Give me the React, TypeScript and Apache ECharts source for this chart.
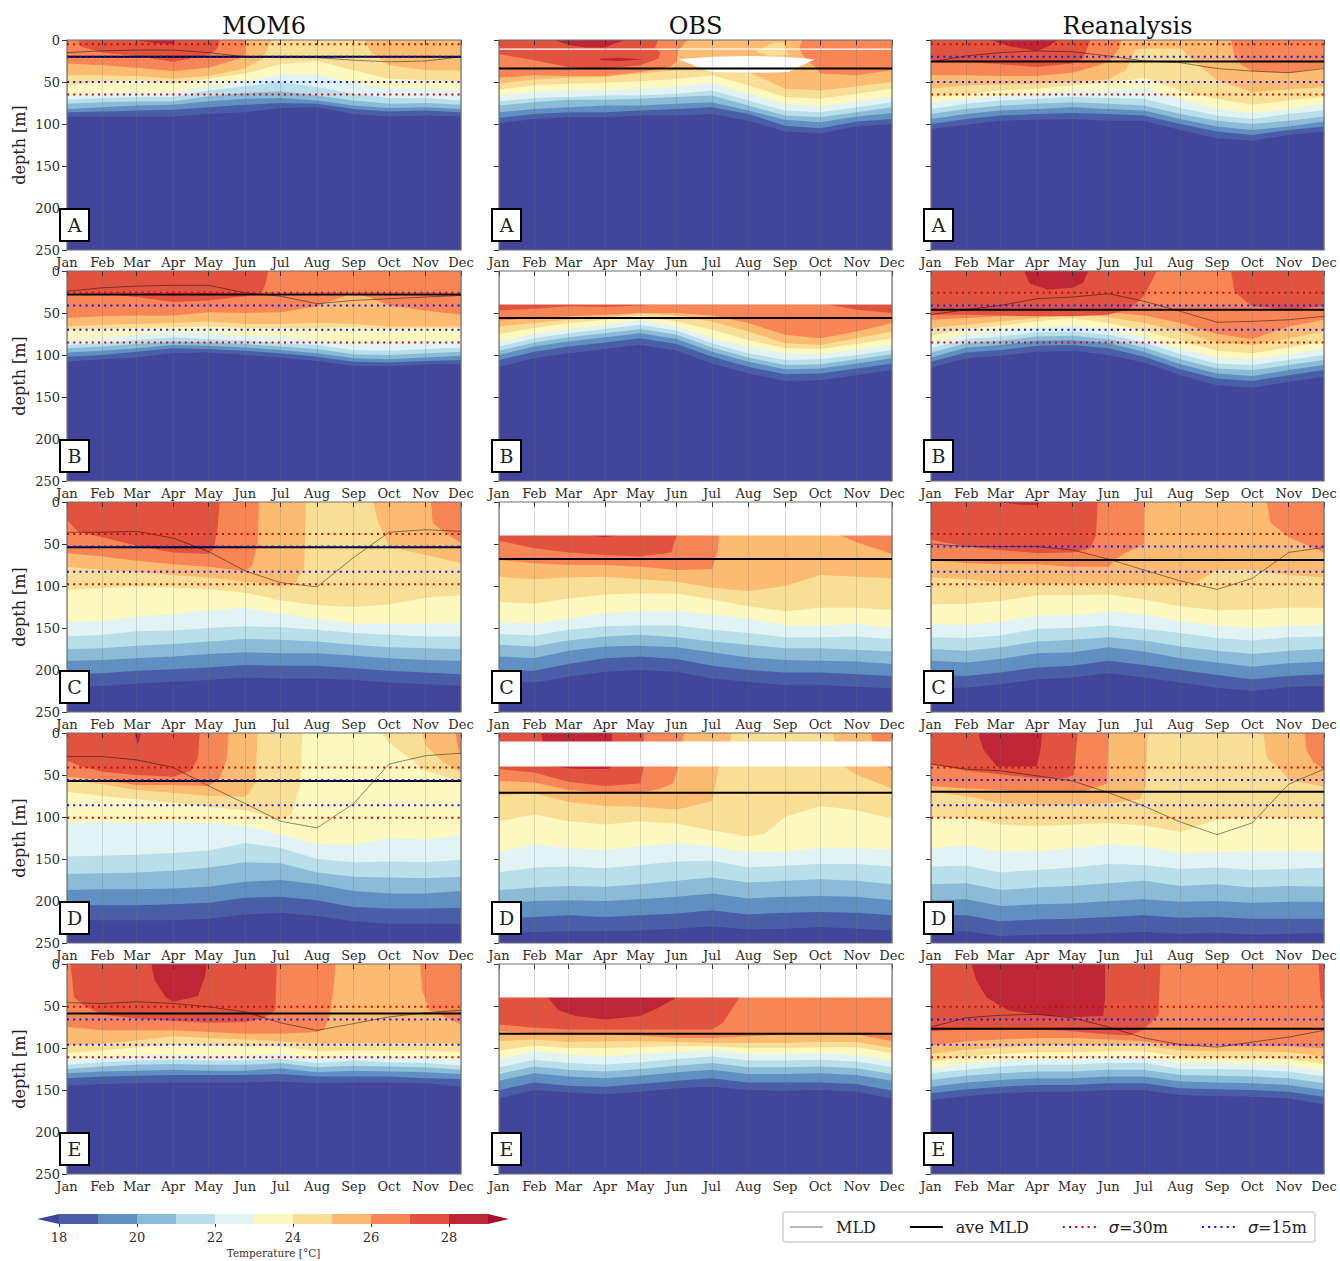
import React, { useEffect, useRef } from "react";
import * as echarts from "echarts";

const MONTHS = ["Jan","Feb","Mar","Apr","May","Jun","Jul","Aug","Sep","Oct","Nov","Dec"];
const MONTH_DAYS = [0,30,59,90,120,151,181,212,243,273,304,334];
const COLUMN_TITLES = ["MOM6","OBS","Reanalysis"];
const ROW_LETTERS = ["A","B","C","D","E"];
const LEVELS = [18,19,20,21,22,23,24,25,26,27,28];
const LEVEL_COLORS = ["#4a5ea8","#6090c2","#8bbbd6","#b8dfea","#e1f3f3","#fdf8bf","#f9df96","#fbbc72","#f78556","#e2533f","#be2635"];
const UNDER_COLOR = "#41469a";
const OVER_COLOR = "#a5102f";

// isotherm depth: twelve monthly values, or [month position, depth] pairs. Order: 18,19,...,28 degC
const M_A: any[] = [
  [91,91,91,91,88,86,81,80,88,91,90,91],
  [86,85,84,83,80,77,75,76,82,85,84,86],
  [82,80,78,77,73,70,69,72,78,81,80,82],
  [76,74,73,73,67,63,61,66,72,76,75,77],
  [71,69,68,68,60,55,50,56,64,69,69,72],
  [66,63,62,62,55,50,41,41,52,57,58,60],
  [54,50,48,52,46,40,29,25,36,46,48,49],
  [[0,42],[1,42],[2,43],[3,46],[4,43],[5,34],[5.5,22],[5.75,0],[8.3,0],[8.5,15],[9,30],[10,36],[11,36]],
  [[0,28],[1,30],[2,33],[3,37],[4,33],[5,20],[5.02,0]],
  [[0.33,0],[0.4,8],[1,15],[2,19],[3,26],[4,18],[4.25,10],[4.3,0]],
  [[2,0],[2.5,4],[3,5],[3.05,0]],
];
const M_B: any[] = [
  [108,105,103,98,97,100,103,107,113,113,111,111],
  [102,100,96,92,93,95,98,102,108,109,107,106],
  [97,95,92,88,89,91,94,98,104,105,103,101],
  [92,90,87,84,85,87,90,93,99,100,98,96],
  [88,86,82,79,81,83,86,88,94,95,93,91],
  [82,80,76,73,74,77,79,82,85,85,84,83],
  [70,69,68,67,66,68,68,68,67,69,68,68],
  [66,64,63,62,60,63,63,62,63,66,66,66],
  [[0,56],[1,54],[2,53],[3,53],[4,49],[5,50],[6,49],[7,42],[7.6,32],[8,26],[8.5,32],[9,41],[10,47],[11,52]],
  [[0,26],[1,27],[2,31],[3,37],[4,35],[5,30],[5.5,24],[5.6,12],[5.65,0]],
  [],
];
const M_C: any[] = [
  [219,219,216,214,212,209,210,210,212,215,217,219],
  [205,204,201,199,197,194,195,195,198,201,203,205],
  [189,188,186,184,181,179,180,180,183,186,188,189],
  [175,174,171,169,166,163,164,166,170,173,174,175],
  [160,158,154,153,150,148,149,152,156,158,160,160],
  [143,142,136,134,129,126,133,139,145,145,145,144],
  [105,102,101,102,104,108,117,123,125,122,114,111],
  [[0,77],[1,81],[2,83],[3,87],[4,90],[5,95],[6,100],[6.4,97],[6.65,78],[6.7,0],[8.55,0],[8.7,25],[9,53],[10,63],[11,73]],
  [[0,61],[1,65],[2,70],[3,74],[4,77],[5,82],[5.2,76],[5.35,50],[5.4,0],[10.15,0],[10.2,25],[10.5,35],[11,49]],
  [[0,21],[0.3,35],[1,42],[2,52],[3,60],[4,62],[4.15,55],[4.25,30],[4.3,0]],
  [],
];
const M_D: any[] = [
  [223,223,223,223,221,216,214,218,224,227,227,227],
  [205,205,205,204,202,196,195,199,207,209,209,208],
  [187,186,186,185,183,177,175,180,188,191,191,188],
  [168,167,166,164,160,154,155,166,171,172,173,171],
  [147,146,145,143,140,131,137,150,154,153,154,151],
  [107,106,107,106,107,110,121,132,133,125,127,121],
  [[0,70],[1,75],[2,79],[3,83],[4,88],[5,92],[6,103],[6.3,97],[6.55,60],[6.6,0],[8.8,0],[9,12],[9.5,28],[10,45],[11,58]],
  [[0,55],[1,61],[2,68],[3,71],[4,75],[5,76],[5.1,72],[5.3,58],[5.35,0],[9.9,0],[10,15],[10.5,35],[11,47]],
  [[0,52],[1,56],[2,62],[3,62],[4,63],[4.3,55],[4.5,30],[4.55,0],[10.85,0],[10.9,15],[11,28]],
  [[0,33],[0.4,40],[1,46],[2,50],[3,52],[3.5,45],[3.7,30],[3.75,0]],
  [[1.95,0],[2,10],[2.03,14],[2.08,8],[2.12,0]],
];
const M_E: any[] = [
  [145,143,142,141,141,141,140,142,141,141,142,146],
  [136,134,133,132,132,132,131,134,134,134,136,137],
  [130,128,127,126,127,127,124,129,127,128,129,131],
  [125,122,120,119,120,120,118,123,121,122,123,126],
  [120,117,115,114,115,115,113,118,115,117,118,121],
  [114,111,109,108,109,109,107,112,109,110,111,114],
  [106,103,99,96,97,98,98,104,103,103,103,105],
  [97,95,91,86,88,90,92,95,94,94,94,95],
  [[0,75],[1,79],[2,79],[3,79],[4,81],[5,83],[6,83],[7,81],[7.2,78],[7.35,60],[7.45,30],[7.5,0],[9.85,0],[9.9,30],[10.1,55],[10.5,62],[11,72]],
  [[0.1,0],[0.2,40],[0.5,50],[1,60],[2,65],[3,68],[4,70],[5,69],[5.5,65],[5.85,55],[5.9,0]],
  [[2.4,0],[2.5,20],[2.8,40],[3,45],[3.7,38],[3.9,15],[3.95,0]],
];

const O_A: any[] = [
  [99,94,92,92,90,90,88,96,109,111,103,100],
  [93,88,86,86,84,82,80,88,102,105,97,94],
  [86,82,80,78,78,76,74,84,95,98,91,87],
  [78,74,71,71,70,68,66,78,90,92,86,80],
  [73,69,68,66,66,64,60,72,84,86,80,74],
  [66,62,60,60,58,56,51,64,76,79,73,68],
  [59,54,52,51,49,46,42,54,68,70,64,58],
  [52,47,45,44,40,36,36,38,58,60,55,50],
  [[0,45],[1,42],[2,43],[3,43],[4,38],[4.8,32],[5,26],[5.05,12],[5.3,0],[8.5,0],[8.4,10],[8.6,24],[8.9,33],[9,40],[10,42],[11,36]],
  [[0,17],[1,24],[2,32],[2.5,34],[3,34],[4,30],[4.5,22],[4.55,15],[4.4,10],[4.5,0]],
  [[1.6,0],[2,6],[2.5,9],[3,9],[3.3,4],[3.6,0]],
];
const O_B: any[] = [
  [114,104,98,93,88,95,110,122,131,130,124,118],
  [106,96,90,85,80,87,102,114,123,122,116,110],
  [100,90,84,79,74,81,96,108,117,116,110,104],
  [95,85,79,74,69,76,91,103,112,111,105,99],
  [90,80,74,69,64,71,86,98,106,105,100,94],
  [84,75,69,64,59,66,80,90,98,99,94,88],
  [75,68,62,58,54,60,70,82,92,93,87,80],
  [66,62,58,55,51,53,60,72,86,88,80,72],
  [59,56,54,52,50,50,53,62,76,80,72,62],
  [[0,47],[1,45],[2,42],[3,43],[4,41],[4.3,40],[9.2,40],[10,46],[11,50]],
  [],
];
const O_C: any[] = [
  [214,215,208,202,200,202,210,214,218,218,220,222],
  [200,201,193,186,184,187,195,200,203,203,205,207],
  [184,186,177,172,171,173,179,185,188,189,190,193],
  [170,172,165,160,158,161,166,170,174,174,176,178],
  [157,159,152,148,147,147,152,156,161,161,160,163],
  [143,145,139,132,130,130,134,139,147,147,145,150],
  [119,121,115,110,109,109,116,124,130,126,126,129],
  [89,92,90,89,92,95,102,106,100,87,89,91],
  [[0,69],[1,73],[2,75],[3,75],[4,77],[5,81],[6,80],[6.15,60],[6.3,0],[9.5,0],[9.55,40],[10,48],[11,62]],
  [[0,46],[1,55],[2,60],[3,63],[4,65],[4.85,60],[5,40],[5.05,0]],
  [[2.5,0],[2.6,40],[3,42],[3.3,40],[3.3,0]],
];
const O_D: any[] = [
  [239,237,236,236,235,233,230,234,233,231,233,235],
  [221,219,217,219,217,215,211,216,214,213,214,217],
  [203,200,199,200,198,195,191,197,195,194,195,199],
  [187,184,182,183,180,176,172,178,176,174,176,180],
  [166,160,159,161,157,153,152,160,158,156,156,159],
  [142,132,137,139,135,131,135,142,141,137,137,139],
  [[0,105],[1,97],[2,105],[3,109],[4,105],[5,108],[6,116],[7,123],[7.45,120],[8,100],[9,87],[10,92],[11,102]],
  [[0,74],[1,72],[2,82],[3,87],[4,88],[5,91],[6,81],[6.2,40],[6.5,10],[6.55,0],[9.35,0],[9.4,10],[9.65,40],[10,50],[11,66]],
  [[0,57],[1,59],[2,68],[3,71],[4,71],[4.5,67],[4.9,60],[5.05,40],[5.15,10],[5.2,0],[10.4,0],[10.45,10],[10.85,40],[11,44]],
  [[0,43],[1,47],[2,58],[3,63],[4,60],[4.1,40],[4.1,0]],
  [[1.2,0],[1.25,10],[1.65,40],[2,42],[2.5,43],[3.1,43],[3.15,40],[3.2,10],[3.2,0]],
];
const O_E: any[] = [
  [160,150,153,155,152,148,146,150,151,150,152,160],
  [150,141,145,146,143,139,136,141,141,141,143,151],
  [139,130,134,136,133,129,126,131,131,130,132,139],
  [131,122,126,128,125,121,118,123,123,122,124,131],
  [123,114,118,120,117,113,110,115,115,114,116,123],
  [113,104,108,110,107,105,103,107,107,106,108,115],
  [103,97,100,100,99,98,98,100,100,99,99,106],
  [92,90,93,92,92,93,94,94,94,93,93,100],
  [80,82,84,84,85,88,88,86,84,84,84,92],
  [[0,72],[1,76],[2,78],[3,78],[4,78],[5,78],[6,78],[6.3,70],[6.75,40],[6.75,0]],
  [[1.35,0],[1.4,40],[1.7,55],[2.2,62],[3,66],[4,62],[4.5,52],[5,40],[5.05,0]],
];

const R_A: any[] = [
  [106,101,96,95,94,96,96,107,117,120,113,109],
  [100,94,90,88,87,88,90,100,109,113,107,103],
  [94,88,84,82,80,82,84,94,103,107,103,97],
  [88,82,78,76,74,76,78,88,96,100,96,91],
  [82,76,72,70,68,69,70,81,90,94,88,84],
  [74,70,67,64,60,60,57,70,82,87,82,76],
  [68,64,60,58,54,51,45,60,70,77,72,68],
  [[0,58],[1,54],[2,53],[3,52],[4,50],[5,47],[5.5,35],[5.75,12],[6,10],[7,10],[7.5,30],[8,48],[9,62],[10,59],[11,56]],
  [[0,42],[1,42],[2,43],[3,43],[4,39],[4.5,33],[5,26],[5.3,10],[5.35,0],[8.4,0],[8.5,20],[8.7,30],[9,37],[10,39],[11,33]],
  [[0,24],[1,26],[2,29],[3,32],[4,28],[4.3,22],[4.5,0]],
  [[1.7,0],[2.3,8],[3,13],[3.3,8],[3.6,0]],
];
const R_B: any[] = [
  [115,104,101,96,95,100,109,124,136,139,132,126],
  [108,97,94,89,88,92,102,117,128,131,124,118],
  [103,91,88,83,82,86,96,111,122,125,118,112],
  [97,86,83,78,77,81,91,105,116,118,112,106],
  [92,81,78,73,72,76,85,99,110,112,106,100],
  [86,75,72,67,65,70,79,93,103,105,99,93],
  [77,69,65,60,56,62,71,83,95,98,91,84],
  [68,64,60,56,52,55,62,72,85,88,80,72],
  [58,56,54,51,48,49,53,62,75,81,66,58],
  [[0,52],[1,52],[2,53],[3,54],[4,54],[5,52],[5.6,45],[6,30],[6.35,0],[8.4,0],[8.5,25],[9,42],[10,46],[11,42]],
  [[2.65,0],[2.8,15],[3.3,22],[4,20],[4.3,14],[4.45,0]],
];
const R_C: any[] = [
  [221,221,217,211,209,204,209,215,221,225,220,219],
  [206,207,203,197,195,189,194,200,206,211,207,205],
  [189,191,187,180,179,173,178,186,191,196,192,190],
  [175,177,173,166,164,161,165,172,177,181,177,175],
  [161,162,159,151,150,147,151,156,162,165,161,160],
  [145,146,143,135,135,130,134,142,147,150,147,146],
  [122,121,118,111,111,110,116,124,129,128,126,126],
  [[0,90],[1,92],[2,96],[3,97],[4,97],[5,97],[6,98],[7,98],[7.4,96],[7.9,84],[8,81],[9,81],[10,87],[11,90]],
  [[0,69],[1,73],[2,74],[3,74],[4,77],[5,77],[5.2,68],[5.5,60],[6,50],[6,0],[9.4,0],[9.5,25],[9.9,38],[10,42],[11,60]],
  [[0,45],[1,53],[2,57],[3,61],[4,60],[4.5,55],[4.65,40],[4.7,0]],
  [[1.95,0],[2.5,3],[3,4],[3.1,0]],
];
const R_D: any[] = [
  [237,236,242,240,240,238,237,239,238,240,239,238],
  [217,217,224,222,221,219,217,220,219,221,221,221],
  [199,198,206,204,203,200,198,201,200,202,201,201],
  [180,179,187,184,182,179,176,182,180,184,182,183],
  [159,158,166,163,160,156,157,162,160,163,162,160],
  [137,134,141,141,137,132,135,143,142,141,141,141],
  [101,101,109,111,109,107,110,118,103,100,101,101],
  [[0,70],[1,75],[2,84],[3,86],[4,86],[5,84],[5.9,79],[6.05,62],[6.1,0],[9.3,0],[9.4,30],[9.8,45],[10,56],[11,64]],
  [[0,63],[1,66],[2,68],[3,70],[4,70],[4.3,70],[4.95,60],[5,0],[10.45,0],[10.5,20],[10.7,35],[11,43]],
  [[0,37],[1,45],[2,49],[3,54],[3.8,54],[4.05,50],[4.15,0]],
  [[1.35,0],[1.5,20],[1.9,40],[3,40],[3.1,20],[3.15,0]],
];
const R_E: any[] = [
  [162,157,154,152,152,150,150,156,157,158,160,167],
  [154,149,146,144,144,142,142,148,149,150,152,158],
  [146,141,138,136,136,134,134,140,141,142,144,150],
  [138,133,130,128,128,126,126,132,133,134,136,142],
  [130,126,122,120,120,118,118,125,125,126,128,134],
  [124,119,115,113,113,111,111,118,118,119,121,127],
  [116,110,107,105,105,104,104,110,111,112,113,119],
  [107,102,99,97,97,97,97,103,104,104,105,110],
  [97,92,90,88,88,90,92,98,98,98,98,100],
  [[0,80],[1,78],[2,78],[3,78],[4,80],[5,84],[5.6,85],[6,78],[6.4,60],[6.45,0],[10.85,0],[10.9,40],[11,50]],
  [[1.15,0],[1.3,20],[1.6,40],[2.2,55],[3,60],[4,63],[4.85,62],[4.9,40],[4.9,0]],
];
const PANEL_ISOTHERMS = [[M_A,O_A,R_A],[M_B,O_B,R_B],[M_C,O_C,R_C],[M_D,O_D,R_D],[M_E,O_E,R_E]];

// closed shapes painted over the isotherms; level -1 is missing data (white)
const OBS_A_EXTRA = [
  { level: 24, pts: [[7.2,14],[7.7,3],[7.95,3],[8.1,18],[7.6,19]] },
  { level: 28, pts: [[2.85,22],[3.4,21],[4.1,23],[3.4,25],[2.9,24]] },
  { level: -1, pts: [[5.05,23],[6,20],[7,19],[8,20],[8.85,23],[8.1,38],[7.5,39],[6,38],[5.6,32]] },
  { level: -1, pts: [[0,10],[11,10],[11,11.5],[0,11.5]] },
];
const OBS_B_EXTRA = [{ level: -1, pts: [[0,0],[11,0],[11,40],[0,40]] }];
const OBS_C_EXTRA = [{ level: -1, pts: [[0,0],[11,0],[11,40],[0,40]] }];
const OBS_D_EXTRA = [{ level: -1, pts: [[0,10],[11,10],[11,40],[0,40]] }];
const OBS_E_EXTRA = [{ level: -1, pts: [[0,0],[11,0],[11,40],[0,40]] }];
const OBS_EXTRAS = [OBS_A_EXTRA,OBS_B_EXTRA,OBS_C_EXTRA,OBS_D_EXTRA,OBS_E_EXTRA];

const MOM6_MLD = [
  [15,13,12,12,15,20,21,21,24,26,25,20],
  [24,20,18,17,17,26,30,39,35,33,31,29],
  [36,36,35,43,59,82,96,101,66,36,33,35],
  [28,28,32,41,63,84,105,113,84,37,27,24],
  [46,47,45,47,51,57,70,79,71,63,58,55],
];
const REANALYSIS_MLD = [
  [26,19,15,13,14,19,25,27,34,37,39,34],
  [52,46,41,33,31,27,36,48,61,60,58,54],
  [50,53,53,53,57,68,81,94,104,91,60,54],
  [37,43,45,51,57,71,87,106,121,107,61,43],
  [75,64,61,60,64,75,88,96,99,93,87,79],
];
const AVE_MLD = [[20,34,25.5],[28,56,46],[54,68,69],[57,71,70],[59,83,77]];
const SIGMA30 = [[5,65],[26,85],[38,98],[41,101],[51,111]];
const SIGMA15 = [[20,50],[41,70],[53,83],[56,86],[66,96]];
const DEPTH_TICKS = [0,50,100,150,200,250];
const COLORBAR_TICKS = [18,20,22,24,26,28];

const GRID_LEFT = [67,499,931];
const GRID_WIDTH = [394,393,393];
const GRID_TOP = [40,271,502,733,964];
const GRID_HEIGHT = 210;
const FONT = "DejaVu Serif";
const DAY_MAX = MONTH_DAYS[11];

function toDay(m: number) {
  const i = Math.min(Math.floor(m), 10);
  return MONTH_DAYS[i] + (m - i) * (MONTH_DAYS[i + 1] - MONTH_DAYS[i]);
}
function outline(iso: any[]): number[][] {
  if (!iso.length) return [];
  const pairs: number[][] = typeof iso[0] === "number" ? iso.map((d: number, i: number) => [i, d]) : iso;
  const pts = pairs.map(([m, d]) => [toDay(m), d]);
  return [[pts[0][0], 0], ...pts, [pts[pts.length - 1][0], 0]];
}
function polygonSeries(name: string, pts: number[][], xi: number, fill: string, extra: any = {}) {
  return {
    type: "custom", name, xAxisIndex: xi, yAxisIndex: xi, silent: true, z: extra.z ?? 2,
    data: pts, encode: { x: 0, y: 1 },
    renderItem: (params: any, api: any) => {
      if (params.dataIndex !== 0) return null;
      return {
        type: "polygon",
        shape: { points: pts.map((p) => api.coord(p)) },
        style: { fill, stroke: extra.stroke, lineWidth: extra.lineWidth },
      };
    },
  };
}
function lineSeries(name: string, pts: number[][], xi: number, lineStyle: any, z: number) {
  return { type: "line", name, xAxisIndex: xi, yAxisIndex: xi, data: pts, showSymbol: false, symbol: "none", silent: true, z, lineStyle };
}

function buildOption() {
  const grid: any[] = [], xAxis: any[] = [], yAxis: any[] = [], series: any[] = [], graphic: any[] = [], title: any[] = [];
  const redStyle = { color: "#c80a0a", width: 2, type: [2, 4.2] };
  const blueStyle = { color: "#1414ff", width: 2, type: [2, 4.2] };
  const mldStyle = { color: "#000", width: 1, opacity: 0.45 };
  const aveStyle = { color: "#000", width: 2 };

  COLUMN_TITLES.forEach((t, c) => {
    title.push({
      text: t, left: GRID_LEFT[c] + GRID_WIDTH[c] / 2, top: 14, textAlign: "center", padding: 0,
      textStyle: { fontFamily: FONT, fontSize: 24, fontWeight: "normal", color: "#111" },
    });
  });

  ROW_LETTERS.forEach((letter, r) => {
    COLUMN_TITLES.forEach((_, c) => {
      const xi = grid.length;
      grid.push({ left: GRID_LEFT[c], top: GRID_TOP[r], width: GRID_WIDTH[c], height: GRID_HEIGHT, containLabel: false });
      xAxis.push({
        type: "value", gridIndex: xi, min: 0, max: DAY_MAX, z: 3,
        axisLine: { show: false },
        axisTick: { show: true, length: 5, customValues: MONTH_DAYS, lineStyle: { color: "#333" } },
        axisLabel: {
          show: true, customValues: MONTH_DAYS, margin: 6, fontFamily: FONT, fontSize: 13, color: "#2a2a2a", hideOverlap: false,
          formatter: (v: number) => MONTHS[MONTH_DAYS.indexOf(v)] ?? "",
        },
        splitLine: { show: true, lineStyle: { color: "rgba(110,110,110,0.25)", width: 1 } },
      });
      yAxis.push({
        type: "value", gridIndex: xi, min: DEPTH_TICKS[0], max: DEPTH_TICKS[5], interval: 50, inverse: true,
        name: c === 0 ? "depth [m]" : "", nameLocation: "middle", nameGap: 40, nameRotate: 90,
        nameTextStyle: { fontFamily: FONT, fontSize: 16, color: "#222" },
        axisLine: { show: false },
        axisTick: { show: true, length: 5, lineStyle: { color: "#333" } },
        axisLabel: { show: c === 0, margin: 7, fontFamily: FONT, fontSize: 13, color: "#2a2a2a" },
        splitLine: { show: false },
      });

      series.push(polygonSeries("below 18", [[0,0],[DAY_MAX,0],[DAY_MAX,250],[0,250]], xi, UNDER_COLOR));
      PANEL_ISOTHERMS[r][c].forEach((iso: any[], li: number) => {
        const pts = outline(iso);
        if (pts.length) series.push(polygonSeries(LEVELS[li] + " degC", pts, xi, LEVEL_COLORS[li]));
      });
      if (c === 1) {
        OBS_EXTRAS[r].forEach((e) => {
          const pts = e.pts.map(([m, d]) => [toDay(m), d]);
          const isWhite = e.level < 0;
          series.push(polygonSeries(isWhite ? "no data" : e.level + " degC extra", pts, xi, isWhite ? "#ffffff" : LEVEL_COLORS[LEVELS.indexOf(e.level)], { z: 2 }));
        });
      }
      series.push(polygonSeries("frame", [[0,0],[DAY_MAX,0],[DAY_MAX,250],[0,250]], xi, "none", { z: 4, stroke: "#6f6f6f", lineWidth: 1.2 }));

      const ends = [0, DAY_MAX];
      if (c !== 1) {
        const mld = c === 0 ? MOM6_MLD[r] : REANALYSIS_MLD[r];
        series.push(lineSeries("MLD", mld.map((d, i) => [MONTH_DAYS[i], d]), xi, mldStyle, 5));
      }
      series.push(lineSeries("ave MLD", ends.map((x) => [x, AVE_MLD[r][c]]), xi, aveStyle, 6));
      if (c !== 1) {
        SIGMA30[r].forEach((v) => series.push(lineSeries("σ=30m", ends.map((x) => [x, v]), xi, redStyle, 7)));
        SIGMA15[r].forEach((v) => series.push(lineSeries("σ=15m", ends.map((x) => [x, v]), xi, blueStyle, 7)));
      }

      graphic.push({
        type: "group", x: GRID_LEFT[c] - 7, y: GRID_TOP[r] + 169, z: 20,
        children: [
          { type: "rect", shape: { x: 0, y: 0, width: 29, height: 32 }, style: { fill: "#fff", stroke: "#000", lineWidth: 2 }, z: 20 },
          { type: "text", x: 14.5, y: 16, style: { text: letter, fontFamily: FONT, fontSize: 19, fill: "#222", align: "center", verticalAlign: "middle" }, z: 21 },
        ],
      });
    });
  });

  // colour bar
  const cb = grid.length;
  grid.push({ left: 59, top: 1214, width: 429, height: 10 });
  xAxis.push({
    type: "value", gridIndex: cb, min: 18, max: 29, interval: 2,
    name: "Temperature [°C]", nameLocation: "middle", nameGap: 23,
    nameTextStyle: { fontFamily: FONT, fontSize: 10.5, color: "#333" },
    axisLine: { show: false },
    axisTick: { show: true, length: 3, customValues: COLORBAR_TICKS, lineStyle: { color: "#333" } },
    axisLabel: { show: true, customValues: COLORBAR_TICKS, margin: 7, fontFamily: FONT, fontSize: 13, color: "#2a2a2a" },
    splitLine: { show: false },
  });
  yAxis.push({ type: "value", gridIndex: cb, min: 0, max: 1, show: false });
  LEVELS.forEach((t, i) => {
    series.push(polygonSeries("colorbar " + t, [[t,0],[t+1,0],[t+1,1],[t,1]], cb, LEVEL_COLORS[i]));
  });
  series.push(polygonSeries("colorbar under", [[18,0],[17.44,0.5],[18,1]], cb, UNDER_COLOR));
  series.push(polygonSeries("colorbar over", [[29,0],[29.53,0.5],[29,1]], cb, OVER_COLOR));

  const legend = {
    left: 783, top: 1212, orient: "horizontal",
    data: [{ name: "MLD", lineStyle: { opacity: 0.27 } }, { name: "ave MLD" }, { name: "σ=30m" }, { name: "σ=15m" }],
    itemWidth: 33, itemHeight: 12, itemGap: 33, selectedMode: false,
    padding: [7, 8, 7, 6], borderColor: "#dcdcdc", borderWidth: 2, borderRadius: 3, backgroundColor: "#fff",
    itemStyle: { opacity: 0 },
    formatter: (name: string) => (name.startsWith("σ") ? "{i|σ}" + name.slice(1) : name),
    textStyle: {
      fontFamily: FONT, fontSize: 16, color: "#222", padding: [0, 0, 0, 8],
      rich: { i: { fontFamily: "DejaVu Sans", fontStyle: "italic", fontSize: 16, color: "#222" } },
    },
  };

  return { animation: false, backgroundColor: "#ffffff", title, grid, xAxis, yAxis, series, graphic, legend };
}

export default function App() {
  const ref = useRef<HTMLDivElement>(null);
  useEffect(() => {
    document.body.style.margin = "0";
    const chart = echarts.init(ref.current!, undefined, { renderer: "svg" });
    chart.setOption(buildOption() as any);
    return () => chart.dispose();
  }, []);
  return <div ref={ref} style={{ position: "absolute", left: 0, top: 0, width: 1340, height: 1261 }} />;
}
